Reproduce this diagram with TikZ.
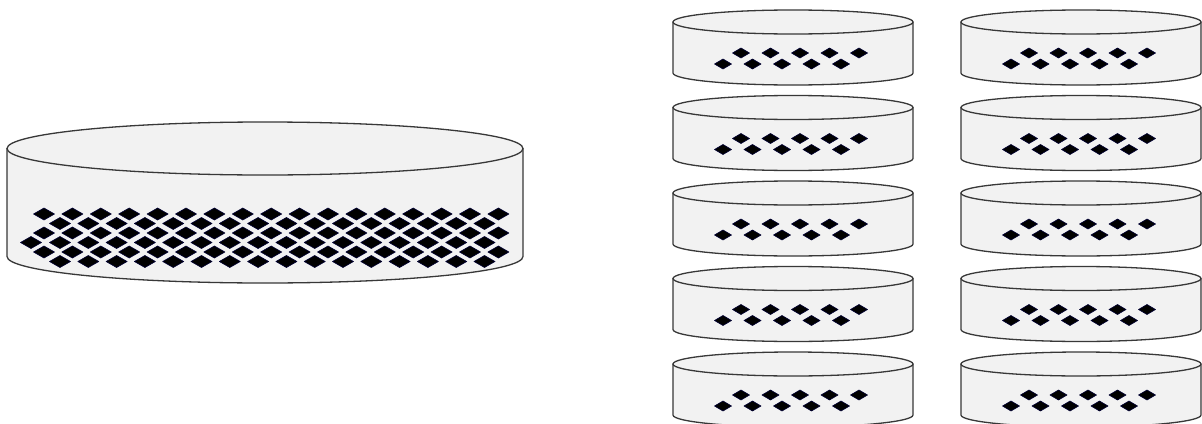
\documentclass[tikz,border=0pt]{standalone}
\usepackage{xcolor}

\definecolor{drumfill}{HTML}{F2F2F2}
\definecolor{drumedge}{HTML}{383838}

% drum: centre x, top centre y, x radius, y radius, depth
\newcommand{\drum}[5]{%
  \filldraw[drumline] (#1-#3,#2) -- ++(0,#5)
    arc[start angle=180, end angle=0, x radius=#3, y radius=#4] -- ++(0,-#5) -- cycle;
  \filldraw[drumline] (#1,#2) ellipse[x radius=#3, y radius=#4];
}
% gem: centre x, centre y, half width, half height
\newcommand{\gem}[4]{%
  \fill[gemfill] (#1-#3,#2) -- (#1,#2-#4) -- (#1+#3,#2) -- (#1,#2+#4) -- cycle;
}

\begin{document}
\begin{tikzpicture}[x=1pt,y=-1pt,
    drumline/.style={draw=drumedge, fill=drumfill, line width=1.3pt, line join=round},
    gemfill/.style={fill=black, draw=black!80!blue, line width=0.6pt, line join=round}]

    \useasboundingbox (0,0) rectangle (1202,423);
    \fill[white] (0,0) rectangle (1202,423);

    % one large drum
    \drum{265}{148.5}{258}{26.5}{108}
    \foreach \y in {214,233,252}{
      \foreach \k in {0,...,16}{
        \gem{44+28.4*\k}{\y}{10.5}{6}
      }
    }
    \foreach \y in {223.5,242.5,261.5}{
      \foreach \k in {0,...,15}{
        \gem{60+28.3*\k}{\y}{10.5}{6}
      }
    }
    \gem{31}{242.5}{10.5}{6}

    % ten small drums
    \foreach \cx in {793,1081}{
      \foreach \i in {0,...,4}{
        \pgfmathsetmacro{\ty}{22+85.5*\i}
        \drum{\cx}{\ty}{120}{12}{51}
        \foreach \k in {0,...,4}{
          \gem{\cx-52+29.5*\k}{\ty+31}{8.5}{5}
          \gem{\cx-70+29.5*\k}{\ty+42}{8.5}{5}
        }
      }
    }
    %
\end{tikzpicture}
\end{document}
